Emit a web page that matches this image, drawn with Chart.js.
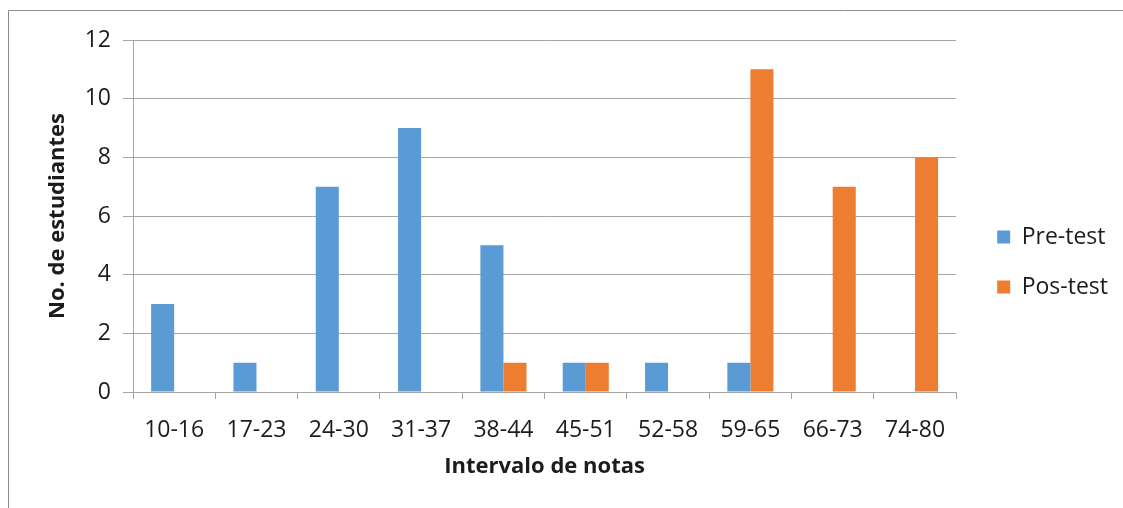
<!DOCTYPE html>
<html>
<head>
<meta charset="utf-8">
<script src="https://cdn.jsdelivr.net/npm/chart.js@4/dist/chart.umd.min.js"></script>
<style>
  html, body { margin: 0; padding: 0; background: #fff; }
  #wrap { width: 1123px; height: 508px; position: relative; }
</style>
</head>
<body>
<div id="wrap"><canvas id="chart"></canvas></div>
<script>
const categories = ["10-16", "17-23", "24-30", "31-37", "38-44", "45-51", "52-58", "59-65", "66-73", "74-80"];
const preTest = [3, 1, 7, 9, 5, 1, 1, 1, 0, 0];
const posTest = [0, 0, 0, 0, 1, 1, 0, 11, 7, 8];

const FONT = "'Open Sans', 'Noto Sans', sans-serif";
const GRID = "#a6a6a6";
const TEXT = "#1c1c1c";

// frame line on left and top, like the pasted office chart
const frame = {
  id: "frame",
  beforeDraw(chart) {
    const ctx = chart.ctx;
    ctx.save();
    ctx.fillStyle = "#fff";
    ctx.fillRect(0, 0, chart.width, chart.height);
    ctx.strokeStyle = "#8c8c8c";
    ctx.lineWidth = 1;
    ctx.beginPath();
    ctx.moveTo(8.5, chart.height);
    ctx.lineTo(8.5, 10.5);
    ctx.lineTo(chart.width, 10.5);
    ctx.stroke();
    ctx.restore();
  }
};

new Chart(document.getElementById("chart"), {
  type: "bar",
  data: {
    labels: categories,
    datasets: [
      { label: "Pre-test", data: preTest, backgroundColor: "#5b9bd5", borderWidth: 0 },
      { label: "Pos-test", data: posTest, backgroundColor: "#ed7d31", borderWidth: 0, yAxisID: "y" }
    ]
  },
  options: {
    responsive: true,
    maintainAspectRatio: false,
    animation: false,
    layout: { padding: { left: 20, top: 40, right: 5, bottom: 24 } },
    datasets: { bar: { categoryPercentage: 0.56, barPercentage: 1 } },
    plugins: {
      tooltip: { enabled: false },
      legend: {
        position: "right",
        labels: {
          boxWidth: 13,
          boxHeight: 13,
          padding: 27,
          color: TEXT,
          font: { family: FONT, size: 23 }
        }
      }
    },
    scales: {
      x: {
        grid: { drawOnChartArea: false, color: GRID, tickLength: 7, offset: true },
        border: { color: GRID },
        ticks: { color: TEXT, padding: 18, font: { family: FONT, size: 23 }, maxRotation: 0 },
        title: { display: true, text: "Intervalo de notas", color: TEXT, font: { family: FONT, size: 22, weight: "bold" }, padding: { top: 4, bottom: 4 } },
        afterFit(scale) { scale.height = 92; }
      },
      y: {
        min: 0,
        max: 12,
        ticks: { stepSize: 2, color: TEXT, padding: 12, font: { family: FONT, size: 23 } },
        grid: { color: GRID, tickLength: 10 },
        border: { color: GRID },
        title: { display: true, text: "No. de estudiantes", color: TEXT, font: { family: FONT, size: 22, weight: "bold" }, padding: { top: 25, bottom: 0 } },
        afterFit(scale) { scale.width = 113; }
      },
      // empty strip between the plot and the legend
      gap: {
        type: "linear",
        position: "right",
        grid: { display: false, drawTicks: false },
        border: { display: false },
        ticks: { display: false },
        afterFit(scale) { scale.width = 14; }
      }
    }
  },
  plugins: [frame]
});
</script>
</body>
</html>
